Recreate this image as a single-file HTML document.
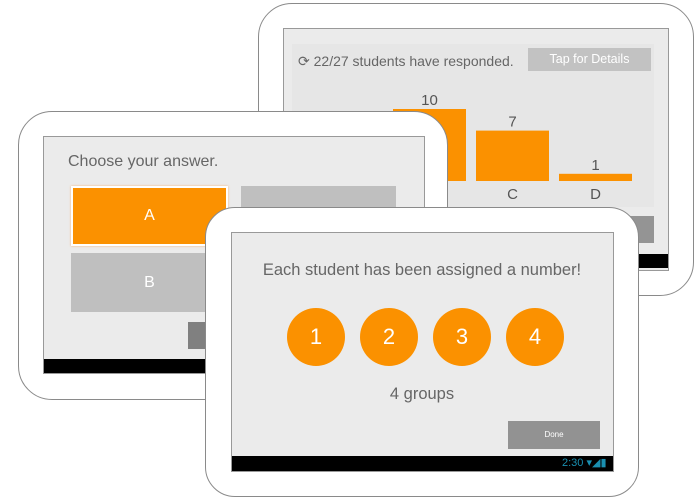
<!DOCTYPE html>
<html><head><meta charset="utf-8"><style>
body{margin:0;width:700px;height:500px;background:#fff;position:relative;overflow:hidden;font-family:"Liberation Sans",sans-serif}
div{position:absolute;box-sizing:border-box}
.tab{background:#fff;border:1.5px solid #8a8a8a;border-radius:34px}
.scr{background:#ebebeb;border:1.5px solid #999}
.nav{background:#000}
.t{color:#666;white-space:nowrap}
.circ{width:58px;height:58px;border-radius:50%;background:#fb9100;color:#fff;font-size:22px;text-align:center;line-height:58px}
</style></head><body>
<div class="tab" style="left:258px;top:3px;width:436px;height:293px">
 <div class="scr" style="left:24px;top:24px;width:386px;height:243px">
  <div style="left:8px;top:15px;width:362px;height:163px;background:#e6e6e6"></div>
  <div class="t" style="left:14px;top:24px;font-size:14px">⟳ 22/27 students have responded.</div>
  <div style="left:244px;top:19px;width:123px;height:23px;background:#c2c2c2;color:#fff;font-size:12.5px;text-align:center;line-height:23px">Tap for Details</div>
  <div style="left:320px;top:187px;width:50px;height:27px;background:#949494"></div>
  <div class="nav" style="left:0;top:225px;width:384px;height:14px"></div>
 </div>
</div>
<svg id="chart" style="position:absolute;left:0;top:0" width="700" height="500"></svg>
<div class="tab" style="left:18px;top:111px;width:430px;height:289px">
 <div class="scr" style="left:24px;top:24px;width:382px;height:238px">
  <div class="t" style="left:24px;top:16px;font-size:16px">Choose your answer.</div>
  <div style="left:27px;top:49px;width:157px;height:60px;background:#fb9100;border:2px solid #fff;box-shadow:0 0 2px #f7b070;color:#fff;font-size:16px;text-align:center;line-height:56px">A</div>
  <div style="left:197px;top:49px;width:155px;height:60px;background:#bfbfbf"></div>
  <div style="left:27px;top:116px;width:157px;height:59px;background:#bfbfbf;color:#fff;font-size:16px;text-align:center;line-height:59px">B</div>
  <div style="left:144px;top:185px;width:60px;height:27px;background:#808080"></div>
  <div class="nav" style="left:0;top:222px;width:380px;height:14px"></div>
 </div>
</div>
<div class="tab" style="left:205px;top:207px;width:434px;height:290px;border-radius:30px">
 <div class="scr" style="left:25px;top:24px;width:383px;height:240px">
  <div class="t" style="left:0;width:380px;top:28px;font-size:16.5px;text-align:center">Each student has been assigned a number!</div>
  <div class="circ" style="left:55px;top:75px">1</div>
  <div class="circ" style="left:128px;top:75px">2</div>
  <div class="circ" style="left:201px;top:75px">3</div>
  <div class="circ" style="left:274px;top:75px">4</div>
  <div class="t" style="left:0;width:380px;top:152px;font-size:16.5px;text-align:center">4 groups</div>
  <div style="left:276px;top:188px;width:92px;height:28px;background:#929292;color:#fff;font-size:8px;text-align:center;line-height:28px">Done</div>
  <div class="nav" style="left:0;top:223px;width:381px;height:15px">
   <div style="left:330px;top:0;font-size:11px;color:#1a8fb0;line-height:15px">2:30 ▾◢▮</div>
  </div>
 </div>
</div>
<script>
const categories=["B","C","D"];
const values=[10,7,1];
const labels=["10","7","1"];
const svg=document.getElementById('chart');
const NS="http://www.w3.org/2000/svg";
const baseY=181, unit=7.2;
function xPos(i){return 393+i*83;}
function yPos(v){return baseY-v*unit;}
categories.forEach((c,i)=>{
 const r=document.createElementNS(NS,'rect');
 r.setAttribute('x',xPos(i));r.setAttribute('y',yPos(values[i]));
 r.setAttribute('width',73);r.setAttribute('height',baseY-yPos(values[i]));
 r.setAttribute('fill','#fb9100');
 
 
 svg.appendChild(r);
 const t=document.createElementNS(NS,'text');
 t.setAttribute('x',xPos(i)+36.5);t.setAttribute('y',yPos(values[i])-4);
 t.setAttribute('text-anchor','middle');t.setAttribute('font-size','15');t.setAttribute('fill','#555');
 t.setAttribute('font-family','Liberation Sans, sans-serif');
 t.textContent=labels[i];
 
 
 svg.appendChild(t);
 const l=document.createElementNS(NS,'text');
 l.setAttribute('x',xPos(i)+36.5);l.setAttribute('y',baseY+18);
 l.setAttribute('text-anchor','middle');l.setAttribute('font-size','15');l.setAttribute('fill','#555');
 l.setAttribute('font-family','Liberation Sans, sans-serif');
 l.textContent=c;
 
 
 svg.appendChild(l);
});
</script>
</body></html>
